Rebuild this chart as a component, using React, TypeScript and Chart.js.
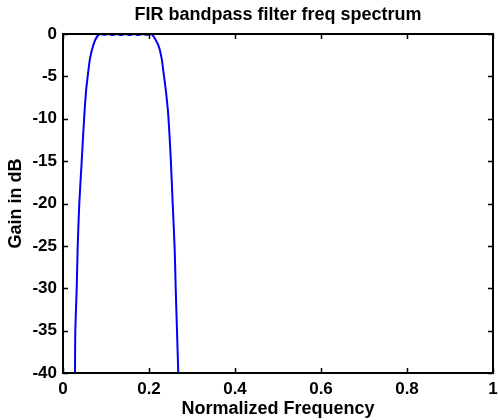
import React, { useEffect, useRef } from "react";
import { Chart, registerables } from "chart.js";

Chart.register(...registerables);

// Normalized frequency (x) and gain in dB (y)
const freq = [
  0.0279, 0.0286, 0.0319, 0.0342, 0.0379, 0.0435, 0.0495, 0.0535, 0.0574,
  0.0628, 0.0705, 0.078, 0.086, 0.095, 0.105, 0.115, 0.125, 0.135, 0.145,
  0.155, 0.165, 0.175, 0.185, 0.195, 0.2063, 0.2216, 0.2295, 0.2349, 0.2395,
  0.2449, 0.2505, 0.2551, 0.2598, 0.2621, 0.2651, 0.2681,
];
const gainDb = [
  -40, -35, -30, -25, -20, -15, -9.6, -6.8, -5, -2.9, -1.3, -0.4, 0, -0.1, 0,
  -0.12, 0, -0.12, 0, -0.12, 0, -0.12, 0, -0.1, 0, -1.3, -2.9, -5, -6.8, -9.6,
  -14.6, -20, -25.5, -30, -35, -40,
];

const xMin = 0;
const xMax = 1;
const xStep = 0.2;
const yMin = -40;
const yMax = 0;
const yStep = 5;

const titleText = "FIR bandpass filter freq spectrum";
const xLabel = "Normalized Frequency";
const yLabel = "Gain in dB";

const FONT = "'Liberation Sans', Arial, Helvetica, sans-serif";

const framePlugin = {
  id: "matlabFrame",
  afterDatasetsDraw(chart: any) {
    const { ctx, chartArea: a, scales } = chart;
    const L = 5;
    ctx.save();
    ctx.strokeStyle = "#000";
    ctx.lineWidth = 1.5;
    ctx.beginPath();
    scales.x.ticks.forEach((t: any) => {
      const px = Math.round(scales.x.getPixelForValue(t.value)) + 0.5;
      ctx.moveTo(px, a.bottom);
      ctx.lineTo(px, a.bottom - L);
      ctx.moveTo(px, a.top);
      ctx.lineTo(px, a.top + L);
    });
    scales.y.ticks.forEach((t: any) => {
      const py = Math.round(scales.y.getPixelForValue(t.value)) + 0.5;
      ctx.moveTo(a.left, py);
      ctx.lineTo(a.left + L, py);
      ctx.moveTo(a.right, py);
      ctx.lineTo(a.right - L, py);
    });
    ctx.stroke();
    ctx.lineWidth = 2;
    ctx.strokeRect(a.left, a.top, a.right - a.left, a.bottom - a.top);
    ctx.restore();
  },
};

export default function App() {
  const canvasRef = useRef<HTMLCanvasElement | null>(null);

  useEffect(() => {
    const canvas = canvasRef.current;
    if (!canvas) return;
    const points = freq.map((f, i) => ({ x: f, y: gainDb[i] }));
    const chart = new Chart(canvas, {
      type: "scatter",
      data: {
        datasets: [
          {
            data: points,
            showLine: true,
            borderColor: "#0000ff",
            borderWidth: 2,
            pointRadius: 0,
            tension: 0.2,
            fill: false,
          },
        ],
      },
      options: {
        animation: false,
        responsive: false,
        devicePixelRatio: 1,
        layout: { padding: { left: 0, right: 5, top: 0, bottom: 0 } },
        plugins: {
          legend: { display: false },
          tooltip: { enabled: false },
          title: {
            display: true,
            fullSize: false,
            text: titleText,
            color: "#000",
            font: { family: FONT, size: 18, weight: "bold", lineHeight: 1.2 },
            padding: { top: 4, bottom: 8.4 },
          },
        },
        scales: {
          x: {
            type: "linear",
            min: xMin,
            max: xMax,
            ticks: {
              stepSize: xStep,
              color: "#000",
              font: { family: FONT, size: 17, weight: "bold" },
              padding: 6,
              maxRotation: 0,
              callback: (v: any) => String(Math.round(Number(v) * 10) / 10),
            },
            grid: { display: false, drawTicks: false },
            border: { display: false },
            title: {
              display: true,
              text: xLabel,
              color: "#000",
              font: { family: FONT, size: 18, weight: "bold", lineHeight: 1.2 },
              padding: { top: 0, bottom: 0 },
            },
            afterFit(scale: any) {
              scale.height = 47;
              scale.paddingLeft = 0;
              scale.paddingRight = 0;
            },
          },
          y: {
            type: "linear",
            min: yMin,
            max: yMax,
            ticks: {
              stepSize: yStep,
              color: "#000",
              font: { family: FONT, size: 17, weight: "bold" },
              padding: 6,
            },
            grid: { display: false, drawTicks: false },
            border: { display: false },
            title: {
              display: true,
              text: yLabel,
              color: "#000",
              font: { family: FONT, size: 18, weight: "bold", lineHeight: 1.2 },
              padding: { top: 5, bottom: 0 },
            },
            afterFit(scale: any) {
              scale.width = 63;
              scale.paddingTop = 0;
              scale.paddingBottom = 0;
            },
          },
        },
      },
      plugins: [framePlugin],
    });
    return () => chart.destroy();
  }, []);

  return (
    <div style={{ position: "absolute", left: 0, top: 0, width: 498, height: 420, background: "#fff" }}>
      <canvas ref={canvasRef} width={498} height={420} style={{ display: "block" }} />
    </div>
  );
}
